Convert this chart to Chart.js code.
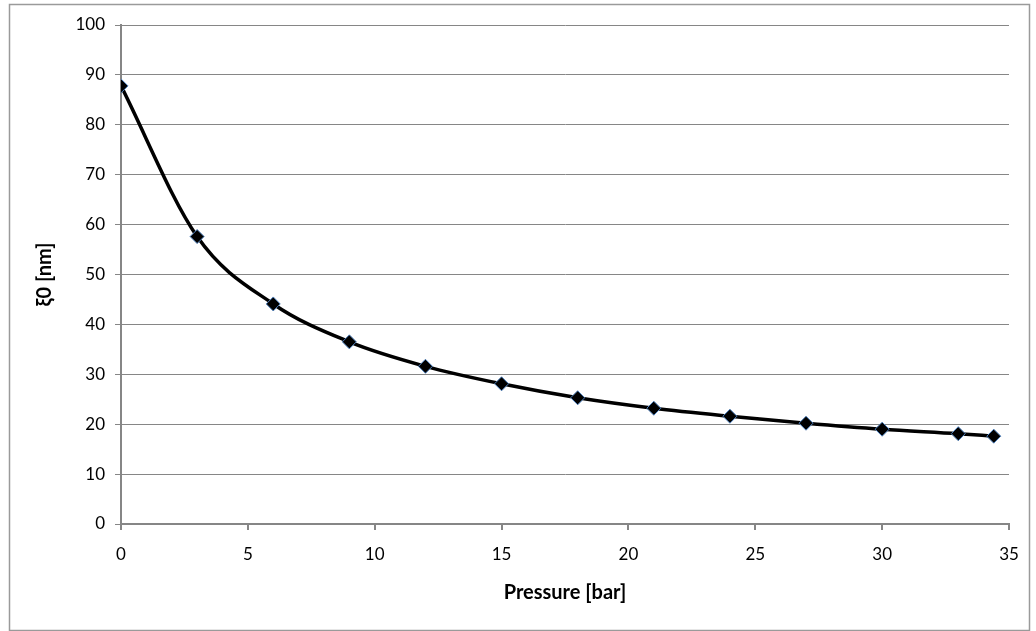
<!DOCTYPE html>
<html>
<head>
<meta charset="utf-8">
<script src="https://cdn.jsdelivr.net/npm/chart.js@4/dist/chart.umd.min.js"></script>
<style>
  html, body { margin: 0; padding: 0; background: #fff; }
  #wrap { width: 1036px; height: 631px; }
</style>
</head>
<body>
<div id="wrap"><canvas id="chart" width="1036" height="631"></canvas></div>
<script>
// values
const pressure = [0, 3, 6, 9, 12, 15, 18, 21, 24, 27, 30, 33, 34.4];
const xi0 = [87.8, 57.6, 44.1, 36.5, 31.6, 28.1, 25.3, 23.2, 21.6, 20.2, 19.0, 18.1, 17.6];
const xTitle = 'Pressure [bar]';
const yTitle = 'ξ0 [nm]';

const FONT = 'Lato, "Open Sans", sans-serif';
const AXIS = '#868686';

// outer frame like the spreadsheet chart border
const frame = {
  id: 'frame',
  beforeDraw(chart) {
    const { ctx, width, height } = chart;
    ctx.save();
    ctx.fillStyle = '#fff';
    ctx.fillRect(0, 0, width, height);
    ctx.strokeStyle = '#9a9a9a';
    ctx.lineWidth = 1.5;
    ctx.strokeRect(9.5, 4.5, width - 16, height - 5);
    ctx.restore();
  },
};

new Chart(document.getElementById('chart'), {
  type: 'scatter',
  data: {
    datasets: [{
      data: pressure.map((p, i) => ({ x: p, y: xi0[i] })),
      showLine: true,
      borderColor: '#000',
      borderWidth: 3.5,
      cubicInterpolationMode: 'monotone',
      pointStyle: 'rectRot',
      pointRadius: 7,
      pointHoverRadius: 7,
      pointBackgroundColor: '#000',
      pointBorderColor: '#4f81bd',
      pointBorderWidth: 1,
    }],
  },
  options: {
    responsive: false,
    animation: false,
    layout: { padding: { left: 33, right: 27, top: 25, bottom: 26 } },
    plugins: { legend: { display: false }, tooltip: { enabled: false } },
    scales: {
      x: {
        type: 'linear',
        min: 0, max: 35,
        afterFit: (s) => { s.height = 81; },
        ticks: { stepSize: 5, color: '#000', font: { family: FONT, size: 17 }, padding: 14, maxRotation: 0 },
        grid: { drawOnChartArea: false, drawTicks: true, tickLength: 6, color: AXIS, lineWidth: 2 },
        border: { color: AXIS, width: 2 },
        title: { display: true, text: xTitle, color: '#000', font: { family: FONT, size: 20, weight: 'bold' }, padding: 0 },
      },
      y: {
        min: 0, max: 100,
        afterFit: (s) => { s.width = 88; },
        ticks: { stepSize: 10, color: '#000', font: { family: FONT, size: 17 }, padding: 10 },
        grid: { color: AXIS, lineWidth: 1, tickLength: 6 },
        border: { color: AXIS, width: 2 },
        title: { display: true, text: yTitle, color: '#000', font: { family: FONT, size: 20, weight: 'bold' }, padding: 0 },
      },
    },
  },
  plugins: [frame],
});
</script>
</body>
</html>
